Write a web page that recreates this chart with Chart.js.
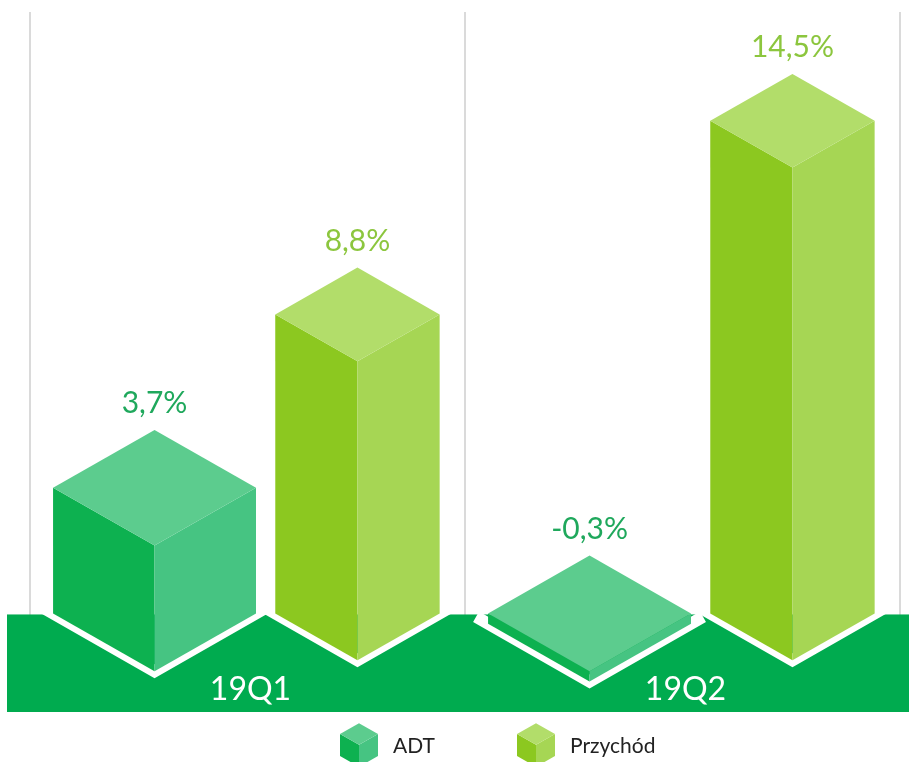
<!DOCTYPE html>
<html lang="pl">
<head>
<meta charset="utf-8">
<title>ADT / Przychód</title>
<script src="https://cdn.jsdelivr.net/npm/chart.js@4/dist/chart.umd.min.js"></script>
<style>
  html,body{margin:0;padding:0;background:#fff;}
  #wrap{width:909px;height:762px;position:relative;}
</style>
</head>
<body>
<div id="wrap"><canvas id="chart"></canvas></div>
<script>
  // dane
  const categories = ['19Q1', '19Q2'];
  const seriesNames = ['ADT', 'Przychód'];
  const adtValues = [3.7, -0.3];
  const revenueValues = [8.8, 14.5];

  // kolory: [lewa ściana, prawa ściana, góra, etykieta]
  const palette = [
    {left:'#0db150', right:'#46c482', top:'#5ccc8e', label:'#1fa85c'},
    {left:'#8cc820', right:'#a6d654', top:'#b2dd6a', label:'#8cc63e'}
  ];
  const BAND = '#00ab4f';
  const FONT = 'Lato, "Open Sans", sans-serif';
  const ISO = 0.57;     // proporcja rzutu izometrycznego
  const SHIFT = 8.5;    // przesunięcie grup w prawo

  const fmt = v => v.toFixed(1).replace('.', ',') + '%';

  function face(ctx, pts, color){
    ctx.beginPath();
    ctx.moveTo(pts[0][0], pts[0][1]);
    for(let i=1;i<pts.length;i++) ctx.lineTo(pts[i][0], pts[i][1]);
    ctx.closePath();
    ctx.fillStyle = color;
    ctx.fill();
  }

  function cube(ctx, cx, hw, topY, botY, c){
    const hh = hw*ISO;
    face(ctx, [[cx-hw,topY],[cx,topY+hh],[cx,botY+hh],[cx-hw,botY]], c.left);
    face(ctx, [[cx,topY+hh],[cx+hw,topY],[cx+hw,botY],[cx,botY+hh]], c.right);
    face(ctx, [[cx,topY-hh],[cx+hw,topY],[cx,topY+hh],[cx-hw,topY]], c.top);
  }

  function eachBox(chart, fn){
    const y = chart.scales.y;
    const zero = y.getPixelForValue(0);
    chart.data.datasets.forEach((ds, di)=>{
      chart.getDatasetMeta(di).data.forEach((bar, i)=>{
        const p = bar.getProps(['x','y','width'], true);
        const vy = y.getPixelForValue(ds.data[i]);
        fn({cx:p.x+SHIFT, hw:p.width/2, topY:Math.min(vy,zero), botY:Math.max(vy,zero), di, i, value:ds.data[i]});
      });
    });
  }

  const cubes3d = {
    id:'cubes3d',
    beforeDatasetsDraw(chart){
      const {ctx, chartArea, scales} = chart;
      const zero = scales.y.getPixelForValue(0);
      ctx.save();
      // zielony pas podłogi
      ctx.fillStyle = BAND;
      ctx.fillRect(chartArea.left-23, zero+1, chart.width-(chartArea.left-23), chartArea.bottom-zero-1);
      // białe obrysy pod kostkami
      ctx.strokeStyle = '#fff';
      ctx.lineWidth = 12;
      ctx.lineJoin = 'miter';
      eachBox(chart, b=>{
        const hh = b.hw*ISO, ext = 12;
        ctx.beginPath();
        ctx.moveTo(b.cx-b.hw-ext, b.botY-ext*ISO);
        ctx.lineTo(b.cx, b.botY+hh);
        ctx.lineTo(b.cx+b.hw+ext, b.botY-ext*ISO);
        ctx.stroke();
      });
      ctx.restore();
    },
    afterDatasetsDraw(chart){
      const {ctx, chartArea, scales} = chart;
      ctx.save();
      eachBox(chart, b=>{
        cube(ctx, b.cx, b.hw, b.topY, b.botY, palette[b.di]);
        ctx.fillStyle = palette[b.di].label;
        ctx.font = '30px ' + FONT;
        ctx.textAlign = 'center';
        ctx.textBaseline = 'alphabetic';
        ctx.fillText(fmt(b.value), b.cx, b.topY - b.hw*ISO - 17);
      });
      // etykiety kategorii
      ctx.fillStyle = '#fff';
      ctx.font = '32px ' + FONT;
      ctx.textAlign = 'center';
      ctx.textBaseline = 'middle';
      categories.forEach((c,i)=>{
        ctx.fillText(c, scales.x.getPixelForValue(i)+3, chartArea.bottom-22);
      });
      // legenda
      const ly = chartArea.bottom + 33;
      let lx = 340;
      seriesNames.forEach((name, di)=>{
        const cx = lx + 19;
        cube(ctx, cx, 19, ly-11, ly+11, palette[di]);
        ctx.fillStyle = '#222';
        ctx.font = '21px ' + FONT;
        ctx.textAlign = 'left';
        ctx.textBaseline = 'middle';
        ctx.fillText(name, lx + 53, ly + 1);
        lx += 177;
      });
      ctx.restore();
    }
  };

  new Chart(document.getElementById('chart'), {
    type:'bar',
    data:{
      labels: categories,
      datasets:[
        {label: seriesNames[0], data: adtValues, backgroundColor:'rgba(0,0,0,0)', barPercentage:1.0, categoryPercentage:0.933},
        {label: seriesNames[1], data: revenueValues, backgroundColor:'rgba(0,0,0,0)', barPercentage:0.81, categoryPercentage:0.933}
      ]
    },
    options:{
      responsive:true,
      maintainAspectRatio:false,
      animation:false,
      layout:{padding:{left:30, right:9, top:12, bottom:50}},
      plugins:{legend:{display:false}, tooltip:{enabled:false}},
      scales:{
        x:{
          display:true,
          ticks:{display:false},
          border:{display:false},
          grid:{offset:true, color:'#dadada', lineWidth:2, drawTicks:false}
        },
        y:{display:false, min:-2.9, max:17.7}
      }
    },
    plugins:[cubes3d]
  });
</script>
</body>
</html>
